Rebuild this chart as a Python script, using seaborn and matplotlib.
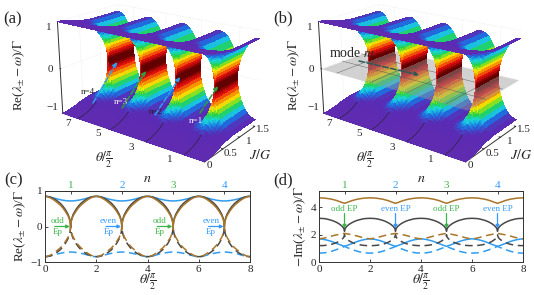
import numpy as np
import matplotlib
matplotlib.use('Agg')
import matplotlib.pyplot as plt
from matplotlib.colors import LinearSegmentedColormap
from matplotlib.patches import FancyArrowPatch
import seaborn as sns

sns.set_style('ticks')
plt.rcParams['font.family'] = ['Liberation Serif', 'DejaVu Serif']
plt.rcParams['mathtext.fontset'] = 'stix'

# surface table: upper sheet, rows = distance from odd theta, columns = J
J_knots = [0, .13, .26, .37, .46, .53, .59, .64, .69, .72, .75, .77, .78, .79, 1.1, 1.5]
well_offsets = [0, .005, .012, .025, .04, .07, .11, .16, .23, .32, .45, .6, .8, 1.0]
upper_sheet = [
    [1, .986, .943, .884, .816, .746, .668, .585, .499, .412, .329, .257, .182, 0, 0, 0],
    [1, .986, .943, .885, .817, .747, .670, .588, .503, .418, .336, .267, .196, .076, .075, .075],
    [1, .986, .943, .885, .818, .749, .672, .591, .508, .425, .346, .280, .215, .117, .117, .116],
    [1, .986, .944, .886, .820, .752, .677, .598, .518, .439, .364, .304, .246, .169, .168, .168],
    [1, .986, .944, .887, .822, .755, .683, .607, .529, .454, .384, .328, .277, .214, .213, .213],
    [1, .986, .945, .890, .826, .763, .694, .622, .551, .482, .420, .373, .331, .283, .281, .281],
    [1, .987, .947, .893, .832, .772, .708, .643, .578, .518, .465, .425, .391, .354, .352, .352],
    [1, .987, .948, .897, .839, .784, .726, .667, .610, .558, .514, .482, .455, .426, .424, .423],
    [1, .987, .951, .902, .849, .799, .749, .699, .652, .610, .575, .550, .530, .509, .506, .505],
    [1, .988, .953, .908, .860, .818, .776, .736, .699, .667, .640, .622, .608, .593, .590, .589],
    [1, .988, .957, .916, .875, .841, .810, .781, .756, .735, .718, .706, .698, .689, .685, .684],
    [1, .989, .960, .924, .889, .863, .841, .822, .806, .794, .784, .778, .774, .769, .764, .763],
    [1, .990, .963, .930, .901, .882, .868, .857, .849, .844, .839, .837, .835, .833, .829, .828],
    [1, .990, .964, .933, .906, .889, .877, .869, .863, .860, .857, .856, .856, .854, .850, .849],
]

# cuts, one half period (c) and (d)
cut_offsets = [0, .02, .05, .1, .2, .3, .4, .5, .6, .7, .8, .9, 1.0]
re_black = [0, .15, .24, .34, .47, .57, .65, .71, .76, .80, .83, .845, .85]
re_brown = [0, .13, .21, .30, .42, .52, .60, .66, .72, .77, .81, .84, .85]
re_blue = [.72, .72, .72, .722, .73, .74, .755, .77, .79, .81, .83, .845, .85]
im_brown = [4.3, 4.31, 4.33, 4.36, 4.43, 4.5, 4.55, 4.6, 4.63, 4.66, 4.68, 4.69, 4.7]
im_black = [2.25, 2.42, 2.52, 2.63, 2.78, 2.89, 2.98, 3.05, 3.10, 3.15, 3.18, 3.19, 3.2]
im_blue = [1.15, 1.16, 1.18, 1.21, 1.28, 1.35, 1.43, 1.5, 1.56, 1.61, 1.65, 1.68, 1.7]
im_brown_d = [2.1, 2.09, 2.08, 2.06, 2.03, 1.99, 1.95, 1.9, 1.85, 1.8, 1.75, 1.72, 1.7]
im_black_d = [2.0, 1.85, 1.76, 1.66, 1.53, 1.43, 1.36, 1.30, 1.26, 1.23, 1.21, 1.2, 1.2]
im_blue_d = [1.15, 1.13, 1.1, 1.06, .99, .92, .85, .79, .74, .7, .67, .66, .65]

wells = [1, 3, 5, 7]
well_labels = ['1', '2', '3', '4']
well_colors = ['#3cb54a', '#3399ff', '#3cb54a', '#3399ff']
ep_labels = ['odd', 'even', 'odd', 'even']

BROWN = '#a8752a'
BLACK = '#484848'
BLUE = '#2f9cf0'

W, H = 534, 295
fig = plt.figure(figsize=(W / 100, H / 100), dpi=100)

rainbow = LinearSegmentedColormap.from_list('rb', [
    (0, '#1c0000'), (.1, '#7a0000'), (.22, '#e81010'), (.33, '#f88000'),
    (.45, '#f0f000'), (.56, '#22d040'), (.67, '#19d6e0'), (.76, '#1d6fe0'),
    (.85, '#5a2bb5'), (1, '#5f2bb0')])


def unfold(offsets, rows):
    # half period -> theta 0..8, wells sit at the odd theta values
    th, out = [], []
    for w in wells:
        for d, v in zip(offsets[::-1], rows[::-1]):
            if th and w - d == th[-1]:
                continue
            th.append(w - d)
            out.append(v)
        for d, v in zip(offsets[1:], rows[1:]):
            th.append(w + d)
            out.append(v)
    return np.array(th), np.array(out)


def px_axes(x0, y0, x1, y1, **kw):
    return fig.add_axes([x0 / W, 1 - y1 / H, (x1 - x0) / W, (y1 - y0) / H], **kw)


def fig_text(x, y, s, **kw):
    fig.text(x / W, 1 - y / H, s, ha='center', va='center', **kw)


def fig_arrow(x0, y0, x1, y1, color, ls='--', lw=1.1):
    fig.add_artist(FancyArrowPatch(
        (x0 / W, 1 - y0 / H), (x1 / W, 1 - y1 / H), transform=fig.transFigure,
        arrowstyle='-|>', mutation_scale=6, color=color, lw=lw, linestyle=ls,
        shrinkA=0, shrinkB=0, zorder=10))


theta_grid, upper = unfold(well_offsets, upper_sheet)
J_grid = np.array(J_knots)


def surface_panel(x0, with_plane):
    ax = fig.add_axes([(x0 - 17) / W, 1 - 200 / H, 340 / W, 245 / H], projection='3d',
                      computed_zorder=False)
    ax.patch.set_alpha(0)
    ax.set_proj_type('persp', focal_length=.45)
    ax.view_init(elev=20, azim=-143)
    ax.set_box_aspect((93, 178, 100), zoom=.885)
    ax.set_xlim(0, 1.5)
    ax.set_ylim(0, 8)
    ax.set_zlim(-1, 1)
    JJ, TT = np.meshgrid(J_grid, theta_grid)
    for sheet, order in ((-upper, 1), (upper, 3)):
        ax.plot_surface(JJ, TT, sheet, facecolors=rainbow(np.abs(sheet)), rstride=1, cstride=1,
                        shade=False, linewidth=0, antialiased=False, zorder=order)
    for w in wells:
        ax.plot(J_grid[:5], [w] * 5, -upper[list(theta_grid).index(w), :5], color='#222222', lw=.4, zorder=1.5)
    if with_plane:
        ax.plot_surface(np.array([[0, 1.5], [0, 1.5]]), np.array([[0, 0], [8, 8]]),
                        np.zeros((2, 2)), color='#999999', alpha=.45, shade=False,
                        linewidth=0, zorder=2)
        for t in wells:
            ax.plot([0, 1.5], [t, t], [0, 0], color='#555555', lw=.3, zorder=2.1)
        for j in [.5, 1]:
            ax.plot([j, j], [0, 8], [0, 0], color='#555555', lw=.3, zorder=2.1)
    ax.set_xticks([0, .5, 1, 1.5])
    ax.set_yticks([1, 3, 5, 7])
    ax.set_zticks([-1, 0, 1])
    ax.set_xticklabels([])
    ax.set_yticklabels([])
    ax.set_zticklabels([])
    for axis in (ax.xaxis, ax.yaxis, ax.zaxis):
        axis.set_pane_color((1, 1, 1, 0))
        axis.line.set_color('#333333')
        axis.line.set_linewidth(.7)
        axis._axinfo['grid'].update(color='#dddddd', linewidth=.4, linestyle=':')
        axis._axinfo['tick'].update(inward_factor=0, outward_factor=.1)
    # tick labels
    for (x, y), s in zip([(49, 28), (50, 69), (52, 108)], ['1', '0', '\u22121']):
        fig_text(x + x0, y, s, fontsize=8)
    for (x, y), s in zip([(68, 123), (98, 134), (131, 147), (170, 160)], ['7', '5', '3', '1']):
        fig_text(x + x0, y, s, fontsize=8)
    for (x, y), s in zip([(209, 165), (231, 153), (249, 141), (263, 130)], ['0', '0.5', '1', '1.5']):
        fig_text(x + x0, y, s, fontsize=8)
    fig_text(19 + x0 + (14 if with_plane else 0), 75, r'Re($\lambda_{\pm}-\omega$)/$\Gamma$', fontsize=9.5, rotation=90)
    fig_text(104 + x0, 160, r'$\theta/\frac{\pi}{2}$', fontsize=10)
    fig_text(260 + x0, 155, r'$J/G$', fontsize=10)
    return ax


ax_a = surface_panel(0, False)
ax_b = surface_panel(261, True)

fig_text(13, 19, '(a)', fontsize=12)
fig_text(283, 18, '(b)', fontsize=12)

# arrows on (a)
fig_arrow(93, 103, 117, 62, BLUE)
fig_arrow(122, 108, 146, 71, '#2e9e3c')
fig_arrow(155, 115, 180, 77, BLUE)
fig_arrow(200, 113, 218, 86, '#2e9e3c')
fig_text(88, 92, 'n=4', fontsize=6.5, color='#222222')
fig_text(121, 102, 'n=3', fontsize=6.5, color='white')
fig_text(156, 112, 'n=2', fontsize=6.5, color='#222222')
fig_text(196, 121, 'n=1', fontsize=6.5, color='white')

# arrow on (b)
fig_arrow(359, 61, 419, 75, '#2a5a5a')
fig_text(352, 53, r'mode $m$', fontsize=10)


def cut_panel(box, series, ylim, yticks, ylabel, tag, tag_x):
    ax = px_axes(*box)
    for vals, color, ls in series:
        th, y = unfold(cut_offsets, vals)
        sns.lineplot(x=th, y=y, color=color, linewidth=1.1, linestyle=ls, errorbar=None,
                     estimator=None, sort=False, ax=ax)
    ax.set_xlim(0, 8)
    ax.set_ylim(*ylim)
    ax.set_xticks([0, 2, 4, 6, 8])
    ax.set_yticks(yticks)
    ax.set_yticklabels([str(v).replace('-', '\u2212') for v in yticks])
    ax.tick_params(direction='in', length=2, width=.6, labelsize=8, pad=2)
    for side in ax.spines.values():
        side.set_linewidth(.7)
        side.set_color('#333333')
    ax.set_xlabel(r'$\theta/\frac{\pi}{2}$', fontsize=10, labelpad=-1)
    ax.set_ylabel(ylabel, fontsize=9.5, labelpad=2)
    top = ax.secondary_xaxis('top')
    top.set_xticks(wells)
    top.set_xticklabels(well_labels, fontsize=8)
    top.tick_params(direction='in', length=2, width=.6, pad=1)
    for lab, c in zip(top.get_xticklabels(), well_colors):
        lab.set_color(c)
    top.spines['top'].set_linewidth(.7)
    fig_text((box[0] + box[2]) / 2, 178, r'$n$', fontsize=10)
    fig_text(tag_x, 180, tag, fontsize=12)
    return ax


dash = (0, (5, 3))
ax_c = cut_panel((45, 191, 250, 262), [
    (re_blue, BLUE, '-'), (re_black, BLACK, '-'), (re_brown, BROWN, '-'),
    (-np.array(re_blue), BLUE, dash), (-np.array(re_black), BLACK, dash),
    (-np.array(re_brown), BROWN, dash)],
    (-1, 1), [-1, 0, 1], r'Re($\lambda_{\pm}-\omega$)/$\Gamma$', '(c)', 14)
ax_d = cut_panel((319, 191, 523, 262), [
    (im_brown, BROWN, '-'), (im_black, BLACK, '-'), (im_blue, BLUE, '-'),
    (im_brown_d, BROWN, dash), (im_black_d, BLACK, dash), (im_blue_d, BLUE, dash)],
    (0, 5.2), [0, 2, 4], r'$-$Im($\lambda_{\pm}-\omega$)/$\Gamma$', '(d)', 283)

for w, c, lab in zip(wells, well_colors, ep_labels):
    ax_c.annotate('', xy=(w - .03, 0), xytext=(w - .62, 0),
                  arrowprops=dict(arrowstyle='-|>', color=c, lw=.9, mutation_scale=5, shrinkA=0, shrinkB=0))
    ax_c.text(w - .52, .15, lab, color=c, fontsize=6.5, ha='center', va='center')
    ax_c.text(w - .52, -.15, 'Ep', color=c, fontsize=6.5, ha='center', va='center')
    ax_d.annotate('', xy=(w, 2.45), xytext=(w, 3.55),
                  arrowprops=dict(arrowstyle='-|>', color=c, lw=.9, mutation_scale=5, shrinkA=0, shrinkB=0))
    ax_d.text(w, 3.85, lab + ' EP', color=c, fontsize=6.5, ha='center', va='center')

fig.savefig('out.png', dpi=100)
